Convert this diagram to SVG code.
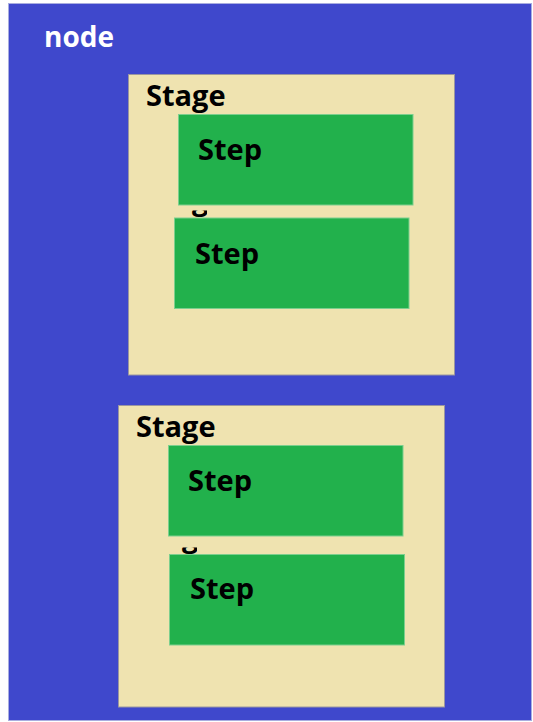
<svg xmlns="http://www.w3.org/2000/svg" width="533" height="722" viewBox="0 0 533 722">
<style>
.node{fill:#3F48CC;stroke:#A9ADE0;stroke-width:1}
.stage{fill:#EFE3B0;stroke:#9A96A0;stroke-width:1}
.step{fill:#22B14C;stroke:#7CCF8E;stroke-width:1}
.lbl{font-family:"Open Sans","Noto Sans",sans-serif;font-weight:bold;font-size:29px;fill:#000}
.nlbl{font-family:"Open Sans","Noto Sans",sans-serif;font-weight:bold;font-size:28px;fill:#fff}
</style>
<defs>
<clipPath id="c1"><rect x="187" y="210.5" width="20" height="7.5"/></clipPath>
<clipPath id="c2"><rect x="177" y="547.5" width="20" height="7"/></clipPath>
</defs>
<rect width="533" height="722" fill="#fff"/>
<g id="node">
<rect class="node" x="8.5" y="3.5" width="523" height="717"/>
<text class="nlbl" x="44" y="47">node</text>
</g>
<g id="stage1">
<rect class="stage" x="128.5" y="74.5" width="326" height="300.5"/>
<text class="lbl" x="146" y="106">Stage</text>
<text class="lbl" x="146" y="209.5" clip-path="url(#c1)">Stage</text>
</g>
<g id="step1">
<rect class="step" x="178.5" y="114.5" width="234.5" height="90.5"/>
<text class="lbl" x="198" y="160">Step</text>
</g>
<g id="step2">
<rect class="step" x="174.5" y="218" width="234.5" height="90.5"/>
<text class="lbl" x="195" y="264">Step</text>
</g>
<g id="stage2">
<rect class="stage" x="118.5" y="405.5" width="326" height="301.5"/>
<text class="lbl" x="136" y="437">Stage</text>
<text class="lbl" x="136" y="546.5" clip-path="url(#c2)">Stage</text>
</g>
<g id="step3">
<rect class="step" x="168.5" y="445.5" width="234.5" height="90.5"/>
<text class="lbl" x="188" y="491">Step</text>
</g>
<g id="step4">
<rect class="step" x="169.5" y="554.5" width="235" height="90.5"/>
<text class="lbl" x="190" y="599">Step</text>
</g>
<g id="connectors"></g>
</svg>
